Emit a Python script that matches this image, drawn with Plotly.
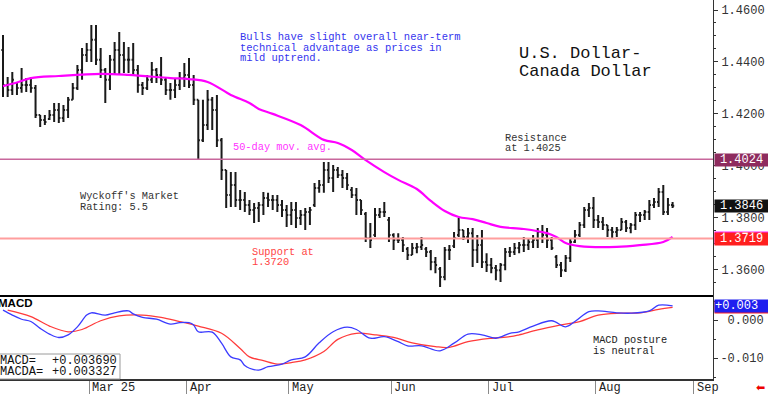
import pandas as pd
import plotly.graph_objects as go

# ---------------- data ----------------
start_date = "2025-02-04"

highs = [
    1.4504, 1.4342, 1.4361, 1.4323, 1.4377, 1.4338, 1.4342, 1.4311, 1.4196, 1.4196,
    1.4215, 1.4242, 1.4242, 1.4234, 1.4265, 1.4319, 1.4388, 1.4454, 1.4473, 1.4542,
    1.4542, 1.4454, 1.4377, 1.4427, 1.4477, 1.4515, 1.4477, 1.4458, 1.4473, 1.4388,
    1.4323, 1.4350, 1.4400, 1.4377, 1.4419, 1.4338, 1.4319, 1.4338, 1.4361, 1.4396,
    1.4415, 1.4350, 1.4254, 1.4254, 1.4292, 1.4265, 1.4273, 1.4107, 1.3984, 1.3976,
    1.3976, 1.3907, 1.3899, 1.3869, 1.3857, 1.3861, 1.3899, 1.3896, 1.3888, 1.3888,
    1.3869, 1.3849, 1.3861, 1.3861, 1.3830, 1.3838, 1.3842, 1.3934, 1.3946, 1.4015,
    1.4015, 1.4003, 1.3996, 1.3984, 1.3972, 1.3919, 1.3915, 1.3869, 1.3822, 1.3780,
    1.3838, 1.3838, 1.3861, 1.3803, 1.3741, 1.3741, 1.3726, 1.3688, 1.3703, 1.3703,
    1.3726, 1.3688, 1.3676, 1.3649, 1.3611, 1.3688, 1.3695, 1.3745, 1.3799, 1.3753,
    1.3761, 1.3761, 1.3734, 1.3753, 1.3664, 1.3645, 1.3618, 1.3626, 1.3684, 1.3688,
    1.3703, 1.3707, 1.3726, 1.3722, 1.3734, 1.3761, 1.3772, 1.3761, 1.3726, 1.3657,
    1.3630, 1.3657, 1.3722, 1.3753, 1.3784, 1.3842, 1.3857, 1.3880, 1.3811, 1.3803,
    1.3772, 1.3765, 1.3765, 1.3799, 1.3792, 1.3780, 1.3822, 1.3822, 1.3830, 1.3869,
    1.3876, 1.3915, 1.3926, 1.3876, 1.3861,
]
lows = [
    1.4265, 1.4265, 1.4273, 1.4273, 1.4281, 1.4284, 1.4281, 1.4184, 1.4150, 1.4157,
    1.4177, 1.4169, 1.4165, 1.4169, 1.4184, 1.4254, 1.4292, 1.4331, 1.4400, 1.4400,
    1.4388, 1.4338, 1.4242, 1.4292, 1.4350, 1.4350, 1.4357, 1.4357, 1.4350, 1.4281,
    1.4273, 1.4292, 1.4319, 1.4319, 1.4311, 1.4273, 1.4254, 1.4261, 1.4292, 1.4304,
    1.4300, 1.4234, 1.4023, 1.4092, 1.4138, 1.4138, 1.4073, 1.3946, 1.3838, 1.3842,
    1.3842, 1.3830, 1.3822, 1.3811, 1.3780, 1.3784, 1.3811, 1.3842, 1.3830, 1.3822,
    1.3803, 1.3765, 1.3772, 1.3761, 1.3772, 1.3753, 1.3772, 1.3842, 1.3896, 1.3896,
    1.3934, 1.3899, 1.3953, 1.3915, 1.3907, 1.3876, 1.3811, 1.3811, 1.3707, 1.3684,
    1.3726, 1.3799, 1.3803, 1.3707, 1.3676, 1.3703, 1.3668, 1.3638, 1.3657, 1.3664,
    1.3676, 1.3649, 1.3598, 1.3587, 1.3534, 1.3560, 1.3638, 1.3684, 1.3726, 1.3715,
    1.3703, 1.3611, 1.3626, 1.3607, 1.3591, 1.3587, 1.3560, 1.3553, 1.3598, 1.3649,
    1.3657, 1.3664, 1.3668, 1.3676, 1.3684, 1.3684, 1.3703, 1.3684, 1.3676, 1.3607,
    1.3572, 1.3591, 1.3630, 1.3703, 1.3726, 1.3761, 1.3803, 1.3761, 1.3761, 1.3753,
    1.3726, 1.3722, 1.3726, 1.3753, 1.3745, 1.3741, 1.3753, 1.3784, 1.3792, 1.3792,
    1.3838, 1.3842, 1.3811, 1.3811, 1.3838,
]
opens = [
    1.4446, 1.4311, 1.4292, 1.4319, 1.4300, 1.4311, 1.4311, 1.4300, 1.4196, 1.4177,
    1.4180, 1.4196, 1.4215, 1.4184, 1.4215, 1.4254, 1.4300, 1.4369, 1.4427, 1.4446,
    1.4485, 1.4408, 1.4369, 1.4331, 1.4408, 1.4446, 1.4427, 1.4408, 1.4408, 1.4369,
    1.4311, 1.4300, 1.4331, 1.4369, 1.4350, 1.4331, 1.4292, 1.4292, 1.4311, 1.4338,
    1.4350, 1.4311, 1.4254, 1.4099, 1.4157, 1.4254, 1.4215, 1.4099, 1.3984, 1.3888,
    1.3926, 1.3869, 1.3869, 1.3849, 1.3830, 1.3838, 1.3849, 1.3876, 1.3869, 1.3869,
    1.3849, 1.3830, 1.3811, 1.3830, 1.3799, 1.3811, 1.3822, 1.3849, 1.3915, 1.3926,
    1.3984, 1.3953, 1.3984, 1.3965, 1.3953, 1.3907, 1.3888, 1.3869, 1.3815, 1.3722,
    1.3734, 1.3811, 1.3822, 1.3792, 1.3734, 1.3715, 1.3715, 1.3680, 1.3657, 1.3684,
    1.3688, 1.3680, 1.3668, 1.3630, 1.3603, 1.3572, 1.3676, 1.3691, 1.3734, 1.3753,
    1.3726, 1.3741, 1.3676, 1.3695, 1.3630, 1.3618, 1.3607, 1.3598, 1.3618, 1.3668,
    1.3668, 1.3684, 1.3695, 1.3695, 1.3707, 1.3715, 1.3745, 1.3734, 1.3715, 1.3649,
    1.3618, 1.3598, 1.3645, 1.3707, 1.3734, 1.3772, 1.3830, 1.3838, 1.3792, 1.3784,
    1.3772, 1.3753, 1.3745, 1.3753, 1.3784, 1.3761, 1.3772, 1.3811, 1.3811, 1.3822,
    1.3849, 1.3861, 1.3899, 1.3822, 1.3849,
]
closes = [
    1.4311, 1.4292, 1.4331, 1.4300, 1.4311, 1.4311, 1.4300, 1.4196, 1.4177, 1.4169,
    1.4196, 1.4215, 1.4184, 1.4215, 1.4254, 1.4300, 1.4369, 1.4427, 1.4446, 1.4485,
    1.4408, 1.4369, 1.4331, 1.4408, 1.4446, 1.4427, 1.4408, 1.4408, 1.4369, 1.4311,
    1.4300, 1.4331, 1.4369, 1.4350, 1.4331, 1.4292, 1.4292, 1.4311, 1.4338, 1.4350,
    1.4311, 1.4254, 1.4099, 1.4157, 1.4254, 1.4215, 1.4099, 1.3984, 1.3888, 1.3926,
    1.3869, 1.3869, 1.3849, 1.3830, 1.3838, 1.3849, 1.3876, 1.3869, 1.3869, 1.3849,
    1.3830, 1.3811, 1.3830, 1.3799, 1.3811, 1.3822, 1.3830, 1.3915, 1.3926, 1.3984,
    1.3953, 1.3984, 1.3965, 1.3953, 1.3926, 1.3888, 1.3869, 1.3830, 1.3722, 1.3715,
    1.3811, 1.3822, 1.3822, 1.3734, 1.3715, 1.3715, 1.3695, 1.3657, 1.3684, 1.3688,
    1.3695, 1.3668, 1.3630, 1.3618, 1.3572, 1.3676, 1.3676, 1.3722, 1.3753, 1.3726,
    1.3741, 1.3676, 1.3695, 1.3630, 1.3618, 1.3607, 1.3598, 1.3618, 1.3668, 1.3668,
    1.3684, 1.3695, 1.3695, 1.3707, 1.3715, 1.3745, 1.3734, 1.3715, 1.3684, 1.3618,
    1.3598, 1.3645, 1.3707, 1.3734, 1.3772, 1.3830, 1.3838, 1.3792, 1.3784, 1.3772,
    1.3753, 1.3745, 1.3753, 1.3784, 1.3761, 1.3772, 1.3811, 1.3811, 1.3822, 1.3849,
    1.3861, 1.3899, 1.3822, 1.3849, 1.3846,
]

# 50-day moving average, read at selected bars (bar index, value)
ma_idx = [0, 3, 6, 12, 21, 27, 36, 40, 44, 49, 53, 55, 58, 64, 69, 72, 75, 78, 82, 85,
          89, 92, 95, 98, 101, 104, 107, 112, 117, 119, 121, 124, 132, 137, 142, 144]
ma_val = [1.4307, 1.4321, 1.4338, 1.4346, 1.4354, 1.4350, 1.4338, 1.4334, 1.4323, 1.4273,
          1.4242, 1.4219, 1.4200, 1.4157, 1.4100, 1.4088, 1.4061, 1.4022, 1.3976, 1.3946,
          1.3911, 1.3865, 1.3826, 1.3803, 1.3795, 1.3780, 1.3765, 1.3757, 1.3741, 1.3726,
          1.3703, 1.3691, 1.3688, 1.3695, 1.3707, 1.3726]

# MACD (blue) and MACDA signal (red)
macd_idx = [0, 2, 4, 6, 8, 10, 12, 14, 16, 18, 19, 22, 24, 27, 28, 30, 33, 36, 38, 40,
            41, 42, 45, 47, 49, 51, 52, 53, 55, 57, 60, 62, 65, 68, 71, 74, 76, 79, 82, 85,
            87, 90, 94, 97, 100, 103, 106, 109, 111, 114, 118, 121, 123, 126, 128, 132, 135,
            139, 141, 144]
macd_val = [0.0026, 0.0013, 0.0002, -0.0004, -0.0022, -0.0037, -0.0046, -0.0039, -0.0018, 0.0013,
            0.0019, 0.0013, 0.0019, 0.0024, 0.0016, 0.0007, 0.0002, -0.0011, -0.0007, -0.0007,
            -0.0013, -0.0031, -0.0032, -0.0061, -0.0097, -0.0105, -0.0120, -0.0127, -0.0132, -0.0123,
            -0.0116, -0.0105, -0.0097, -0.0060, -0.0031, -0.0019, -0.0025, -0.0048, -0.0044, -0.0057,
            -0.0068, -0.0068, -0.0081, -0.0061, -0.0037, -0.0039, -0.0048, -0.0035, -0.0031, -0.0016,
            -0.0002, -0.0018, -0.0004, 0.0022, 0.0024, 0.0019, 0.0018, 0.0024, 0.0039, 0.0037]
sig_idx = [1, 6, 10, 14, 17, 21, 25, 30, 34, 38, 42, 47, 51, 53, 56, 59, 62, 65, 69, 72,
           76, 80, 84, 88, 93, 96, 100, 105, 109, 111, 115, 120, 124, 128, 133, 137, 141, 144]
sig_val = [0.0026, 0.0009, -0.0016, -0.0031, -0.0025, -0.0002, 0.0011, 0.0013, 0.0007, -0.0004,
           -0.0016, -0.0035, -0.0075, -0.0097, -0.0107, -0.0116, -0.0112, -0.0105, -0.0083, -0.0051,
           -0.0035, -0.0039, -0.0046, -0.0060, -0.0070, -0.0072, -0.0057, -0.0048, -0.0044, -0.0039,
           -0.0026, -0.0013, -0.0004, 0.0013, 0.0018, 0.0019, 0.0028, 0.0033]

resistance = 1.4025
support = 1.3720
resistance_tag = 1.4024
support_tag = 1.3719
ma_tag = 1.3724
last_close = 1.3846
macd_last = 0.003690
macda_last = 0.003327
macd_tag_text = "+0.003"
macda_tag_text = "+0.003"

price_ticks = [1.36, 1.38, 1.40, 1.42, 1.44, 1.46]
macd_ticks = [0.0, -0.010]
macd_ticktext = ["\u00a00.000", "-0.010"]
month_labels = ["Mar 25", "Apr", "May", "Jun", "Jul", "Aug", "Sep"]

# ---------------- derived positions ----------------
dates = pd.bdate_range(start_date, periods=len(closes))
bars = list(range(len(closes)))
calendar = pd.bdate_range(start_date, "2025-09-30")
month_pos = []
seen = set()
for k, d in enumerate(calendar):
    key = (d.year, d.month)
    if key not in seen:
        seen.add(key)
        if d.month >= 3:
            month_pos.append(k - 0.5)
month_pos = month_pos[:len(month_labels)]

MONO = "Liberation Mono"
W, H = 713.0, 379.0  # plot area size in px
X_RANGE = [-0.645, 152.69]
Y_RANGE = [1.35028, 1.46385]
Y2_RANGE = [-0.015526, 0.006579]
SPLIT = 84.0 / H

fig = go.Figure()

fig.add_trace(go.Ohlc(
    x=bars, open=opens, high=highs, low=lows, close=closes,
    increasing=dict(line=dict(color="#1a1a1a", width=2)),
    decreasing=dict(line=dict(color="#1a1a1a", width=2)),
    tickwidth=0.35, xaxis="x", yaxis="y", showlegend=False, hoverinfo="skip",
))
fig.add_trace(go.Scatter(
    x=ma_idx, y=ma_val, mode="lines", line=dict(color="#ff00ff", width=2.2, shape="spline"),
    xaxis="x", yaxis="y", showlegend=False, hoverinfo="skip",
))
fig.add_trace(go.Scatter(
    x=sig_idx, y=sig_val, mode="lines", line=dict(color="#ff3b3b", width=1.3, shape="spline"),
    xaxis="x2", yaxis="y2", showlegend=False, hoverinfo="skip",
))
fig.add_trace(go.Scatter(
    x=macd_idx, y=macd_val, mode="lines", line=dict(color="#3b3bff", width=1.3, shape="spline"),
    xaxis="x2", yaxis="y2", showlegend=False, hoverinfo="skip",
))

shapes = [
    dict(type="line", xref="paper", yref="y", x0=0, x1=1, y0=resistance, y1=resistance,
         line=dict(color="#c8679c", width=1.5)),
    dict(type="line", xref="paper", yref="y", x0=0, x1=1, y0=support, y1=support,
         line=dict(color="#ff9e9e", width=2)),
    dict(type="rect", xref="paper", yref="paper", x0=-0.01, x1=120 / W,
         y0=0, y1=1 - 354 / H, line=dict(color="#9a9a9a", width=1), fillcolor="white"),
]

annotations = []


def text_block(lines, px, py, dy, color, size, family=MONO, bold=False):
    for k, line in enumerate(lines):
        t = "<b>%s</b>" % line if bold else line
        annotations.append(dict(
            x=px / W, y=1 - (py + k * dy) / H, xref="paper", yref="paper",
            xanchor="left", yanchor="middle", showarrow=False, text=t,
            font=dict(family=family, size=size, color=color)))


text_block(["Bulls have slight overall near-term",
            "technical advantage as prices in",
            "mild uptrend."], 238, 37, 10.7, "#3434ee", 10.5)
text_block(["U.S. Dollar-", "Canada Dollar"], 517, 53.5, 18, "#111111", 17)
text_block(["Resistance", "at 1.4025"], 503, 138, 9.7, "#333333", 10.3)
text_block(["50-day mov. avg."], 231, 147, 10, "#ff33ff", 10.3)
text_block(["Wyckoff's Market", "Rating: 5.5"], 78, 196, 10.7, "#333333", 10.3)
text_block(["Support at", "1.3720"], 250, 251.7, 10, "#ff4444", 10.3)
text_block(["MACD posture", "is neutral"], 591, 340, 10.7, "#222222", 10.3)
text_block(["MACD"], -4, 302.5, 10, "#000000", 11.5, family="Liberation Sans", bold=True)
text_block(["MACD=", "MACDA="], -2, 360.7, 11, "#111111", 12)
text_block(["%+.6f" % macd_last, "%+.6f" % macda_last], 50, 360.7, 11, "#111111", 12)

# month labels on the shared date axis
for pos, lab in zip(month_pos, month_labels):
    annotations.append(dict(
        x=pos, y=0, xref="x2", yref="paper", xanchor="left", yanchor="top",
        xshift=1, showarrow=False, text=lab,
        font=dict(family=MONO, size=12, color="#222222")))


# right-hand value tags
def tag(value, yref, txt, bg, align="center"):
    annotations.append(dict(
        x=1, y=value, xref="paper", yref=yref, xanchor="left", yanchor="middle", xshift=1,
        showarrow=False, text=txt, bgcolor=bg, width=53, height=12, borderpad=0,
        align=align, font=dict(family=MONO, size=12, color="white")))


tag(resistance_tag, "y", "%.4f" % resistance_tag, "#8e2b5e")
tag(last_close, "y", "%.4f" % last_close, "#111111")
tag(ma_tag, "y", "%.4f" % ma_tag, "#ff22ff")
tag(support_tag, "y", "%.4f" % support_tag, "#ff1f1f")
tag(macda_last, "y2", macda_tag_text, "#ff2020", align="left")
tag(macd_last, "y2", macd_tag_text, "#1f1fef", align="left")

annotations.append(dict(
    x=760 / W, y=1 - 387 / H, xref="paper", yref="paper", xanchor="center", yanchor="middle",
    showarrow=False, text="\u2b05", font=dict(family="DejaVu Sans", size=11, color="#ee0000")))

axis_common = dict(showgrid=False, zeroline=False)
fig.update_layout(
    width=768, height=394,
    margin=dict(l=0, r=55, t=0, b=15),
    paper_bgcolor="white", plot_bgcolor="white",
    showlegend=False,
    xaxis=dict(domain=[0, 1], range=X_RANGE, anchor="y", showticklabels=False, ticks="",
               showline=True, linecolor="#000000", linewidth=2,
               rangeslider=dict(visible=False), **axis_common),
    xaxis2=dict(domain=[0, 1], range=X_RANGE, anchor="y2", showticklabels=False,
                ticks="outside", tickvals=month_pos, ticklen=15, tickcolor="#8a8a8a", tickwidth=1,
                showline=True, linecolor="#333333", linewidth=1.5, **axis_common),
    yaxis=dict(domain=[SPLIT, 1], range=Y_RANGE, anchor="x", side="right",
               tickvals=price_ticks, ticktext=["%.4f" % v for v in price_ticks],
               ticks="outside", ticklen=4, tickcolor="#333333",
               minor=dict(dtick=0.005, ticks="outside", ticklen=2, tickcolor="#333333"),
               showline=True, linecolor="#333333", linewidth=1, ticklabelstandoff=1,
               tickfont=dict(family=MONO, size=12, color="#333333"), **axis_common),
    yaxis2=dict(domain=[0, SPLIT], range=Y2_RANGE, anchor="x2", side="right",
                tickvals=macd_ticks, ticktext=macd_ticktext,
                ticks="outside", ticklen=4, tickcolor="#333333",
                minor=dict(dtick=0.005, ticks="outside", ticklen=2, tickcolor="#333333"),
                showline=True, linecolor="#333333", linewidth=1, ticklabelstandoff=0,
                tickfont=dict(family=MONO, size=12, color="#333333"), **axis_common),
    shapes=shapes,
    annotations=annotations,
)

fig.write_html(
    "out.html",
    config={"displayModeBar": False},
    post_script="document.body.style.margin='0';document.body.style.overflow='hidden';",
)
